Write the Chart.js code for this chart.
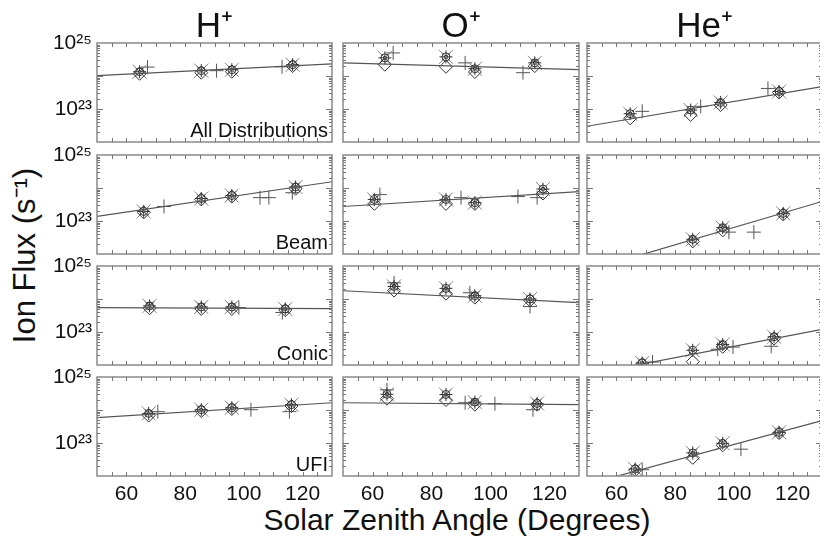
<!DOCTYPE html>
<html>
<head>
<meta charset="utf-8">
<script src="https://cdn.jsdelivr.net/npm/chart.js@4.4.1/dist/chart.umd.min.js"></script>
<style>
  html, body { margin: 0; padding: 0; background: #fff; }
  #fig { position: relative; width: 820px; height: 540px; overflow: hidden;
         font-family: "Liberation Sans", Arial, sans-serif; color: #111; }
  #fig canvas { position: absolute; }
  .ion { position: absolute; top: 7px; font-size: 35px; line-height: 35px; text-align: center; }
  .dist { position: absolute; font-size: 20px; line-height: 20px; text-align: right; }
  .ytitle { position: absolute; left: -126px; top: 240px; width: 300px; font-size: 31px; line-height: 31px;
            text-align: center; transform: rotate(-90deg); }
  .xtitle { position: absolute; left: 157px; top: 505px; width: 600px; font-size: 30px; line-height: 30px;
            text-align: center; }
</style>
</head>
<body>
<div id="fig">
  <div class="ytitle">Ion Flux (s⁻¹)</div>
  <div class="xtitle">Solar Zenith Angle (Degrees)</div>
</div>
<script>
/* labels */
const ionNames = ['H⁺', 'O⁺', 'He⁺'];
const distNames = ['All Distributions', 'Beam', 'Conic', 'UFI'];
const xTickValues = [60, 80, 100, 120];
const yTickValues = [1e23, 1e25];
const fitSza = [50, 130];

/* data, indexed [row][column] */
const clusterSza = [
  [[64.5, 85.5, 95.9, 116.6], [64.2, 84.9, 94.7, 115.0], [64.7, 85.3, 95.5, 115.4]],
  [[65.9, 85.5, 95.9, 117.6], [60.6, 84.9, 94.7, 117.8], [86.0, 96.2, 116.8]],
  [[67.9, 85.5, 95.9, 114.1], [67.3, 84.9, 94.7, 113.4], [68.8, 86.0, 96.2, 113.7]],
  [[67.6, 85.5, 95.9, 116.2], [64.9, 84.9, 94.7, 115.8], [66.4, 86.0, 96.2, 115.4]]
];
const starFlux = [
  [[1.35e24, 1.45e24, 1.55e24, 2.2e24], [3.55e24, 3.8e24, 1.66e24, 2.5e24], [7.2e22, 9.3e22, 1.58e23, 3.4e23]],
  [[1.95e23, 4.8e23, 5.9e23, 1.07e24], [4.5e23, 4.5e23, 3.6e23, 9.3e23], [2.8e22, 6.3e22, 1.7e23]],
  [[6.2e23, 5.75e23, 5.75e23, 5.0e23], [2.4e24, 2.1e24, 1.26e24, 1.0e24], [1.15e22, 2.8e22, 4.2e22, 7.2e22]],
  [[7.9e23, 1.02e24, 1.17e24, 1.45e24], [3.0e24, 2.95e24, 1.74e24, 1.58e24], [1.62e22, 5.0e22, 9.8e22, 2.1e23]]
];
const diamondFlux = [
  [[1.17e24, 1.26e24, 1.35e24, 2.0e24], [2.2e24, 1.9e24, 1.32e24, 2.0e24], [5.2e22, 6.6e22, 1.32e23, 3.16e23]],
  [[1.82e23, 4.5e23, 5.5e23, 9.5e23], [3.3e23, 3.3e23, 3.3e23, 6.8e23], [2.4e22, 5.2e22, 1.58e23]],
  [[5.25e23, 5.0e23, 5.0e23, 4.6e23], [1.8e24, 1.45e24, 1.1e24, 9.1e23], [1.07e22, 1.26e22, 3.55e22, 6.3e22]],
  [[6.8e23, 9.3e23, 1.07e24, 1.32e24], [2.2e24, 2.0e24, 1.45e24, 1.45e24], [1.5e22, 3.55e22, 8.5e22, 2.0e23]]
];
const plusSza = [
  [[67.2, 90.7, 113.0], [67.0, 91.4, 111.0], [68.8, 88.7, 111.6]],
  [[72.8, 105.5, 108.5, 116.5], [62.5, 90.0, 109.3, 115.8], [98.3, 106.8]],
  [[98.3, 113.1], [67.3, 93.0, 113.4], [72.3, 94.5, 99.7, 112.7]],
  [[70.7, 102.4, 115.5], [64.9, 91.4, 101.5, 114.4], [68.8, 102.4]]
];
const plusFlux = [
  [[1.86e24, 1.45e24, 1.9e24], [5.0e24, 2.5e24, 1.26e24], [8.5e22, 1.2e23, 4.2e23]],
  [[2.75e23, 5.1e23, 5.1e23, 7.2e23], [6.3e23, 5.1e23, 5.5e23, 5.1e23], [4.6e22, 4.6e22]],
  [[5.5e23, 3.9e23], [3.1e24, 1.55e24, 5.9e23], [1.23e22, 3.0e22, 3.5e22, 3.7e22]],
  [[8.9e23, 1.02e24, 8.9e23], [4.1e24, 1.66e24, 1.55e24, 1.02e24], [1.55e22, 6.5e22]]
];
const fitFlux = [
  [[1.02e24, 2.34e24], [2.5e24, 1.55e24], [3.0e22, 4.8e23]],
  [[1.38e23, 1.55e24], [2.75e23, 7.8e23], [3.1e21, 3.9e23]],
  [[5.5e23, 5.1e23], [1.78e24, 7.8e23], [5.1e21, 1.2e23]],
  [[5.9e23, 1.66e24], [1.66e24, 1.45e24], [5.6e21, 4.8e23]]
];

/* panel geometry (plot areas) */
const colLeft = [97, 343, 587];
const colWidth = [235, 236, 235];
const rowTop = [43, 155, 266, 377];
const rowHeight = 99;
const Y_AXIS_W = 70;
const X_AXIS_H = 32;
const FONT = '"Liberation Sans", Arial, sans-serif';

const SUP = { '0': '⁰', '1': '¹', '2': '²', '3': '³', '4': '⁴', '5': '⁵', '6': '⁶', '7': '⁷', '8': '⁸', '9': '⁹' };
function sup(n) { return String(n).split('').map(d => SUP[d]).join(''); }
function pts(xs, ys) { return xs.map((x, i) => ({ x: x, y: ys[i] })); }

/* box + inward ticks on all four sides, like the original IDL plot */
const framePlugin = {
  id: 'frame',
  afterDraw(chart) {
    const ctx = chart.ctx;
    const a = chart.chartArea;
    const xs = chart.scales.x, ys = chart.scales.y;
    ctx.save();
    ctx.strokeStyle = '#8a8a8a';
    ctx.lineWidth = 1.5;
    ctx.strokeRect(a.left, a.top, a.right - a.left, a.bottom - a.top);
    ctx.lineWidth = 1;
    ctx.strokeStyle = '#777';
    ctx.beginPath();
    for (let v = 55; v < 130; v += 5) {
      const px = Math.round(xs.getPixelForValue(v)) + 0.5;
      ctx.moveTo(px, a.bottom); ctx.lineTo(px, a.bottom - 4);
      ctx.moveTo(px, a.top); ctx.lineTo(px, a.top + 4);
    }
    for (let e = 22; e < 25; e++) {
      for (let m = 1; m < 10; m++) {
        if (m === 1 && e === 22) continue;
        const py = Math.round(ys.getPixelForValue(m * Math.pow(10, e))) + 0.5;
        const len = m === 1 ? 6 : 3;
        ctx.moveTo(a.left, py); ctx.lineTo(a.left + len, py);
        ctx.moveTo(a.right, py); ctx.lineTo(a.right - len, py);
      }
    }
    ctx.stroke();
    ctx.restore();
  }
};

const fig = document.getElementById('fig');
const charts = [];

function makePanel(r, c) {
  const showX = r === distNames.length - 1;
  const showY = c === 0;
  const padT = 14, padR = 3;
  const padL = showY ? 80 : 3;
  const padB = showX ? 40 : 3;
  const canvas = document.createElement('canvas');
  const w = colWidth[c] + padL + padR;
  const h = rowHeight + padT + padB;
  canvas.width = w; canvas.height = h;
  canvas.style.width = w + 'px'; canvas.style.height = h + 'px';
  canvas.style.left = (colLeft[c] - padL) + 'px';
  canvas.style.top = (rowTop[r] - padT) + 'px';
  fig.appendChild(canvas);

  const markerColor = '#333';
  const datasets = [
    { type: 'line', data: pts(fitSza, fitFlux[r][c]), borderColor: '#555', borderWidth: 1.2,
      pointRadius: 0, fill: false, tension: 0 },
    { data: pts(clusterSza[r][c], diamondFlux[r][c]), pointStyle: 'rectRot', pointRadius: 6.5,
      borderColor: markerColor, borderWidth: 1, backgroundColor: 'rgba(0,0,0,0)' },
    { data: pts(clusterSza[r][c], starFlux[r][c]), pointStyle: 'circle', pointRadius: 4,
      borderColor: markerColor, borderWidth: 1, backgroundColor: 'rgba(0,0,0,0)' },
    { data: pts(clusterSza[r][c], starFlux[r][c]), pointStyle: 'crossRot', pointRadius: 10,
      borderColor: '#888', borderWidth: 1 },
    { data: pts(clusterSza[r][c], starFlux[r][c]), pointStyle: 'star', pointRadius: 6.5,
      borderColor: markerColor, borderWidth: 1 },
    { data: pts(clusterSza[r][c], starFlux[r][c]), pointStyle: 'circle', pointRadius: 1.8,
      borderWidth: 0, backgroundColor: '#000' },
    { data: pts(plusSza[r][c], plusFlux[r][c]), pointStyle: 'cross', pointRadius: 7,
      borderColor: '#555', borderWidth: 1 }
  ];

  return new Chart(canvas.getContext('2d'), {
    type: 'scatter',
    data: { datasets: datasets },
    options: {
      responsive: false,
      animation: false,
      devicePixelRatio: 1,
      events: [],
      layout: {
        autoPadding: false,
        padding: {
          top: padT, right: padR,
          left: showY ? padL - Y_AXIS_W : padL,
          bottom: showX ? padB - X_AXIS_H : padB
        }
      },
      plugins: { legend: { display: false }, tooltip: { enabled: false } },
      scales: {
        x: {
          type: 'linear', min: 50, max: 130, display: showX,
          grid: { display: false, drawTicks: false }, border: { display: false },
          afterBuildTicks: s => { s.ticks = xTickValues.map(v => ({ value: v })); },
          afterFit: s => { s.height = showX ? X_AXIS_H : 0; s.paddingLeft = 0; s.paddingRight = 0; },
          ticks: { color: '#111', padding: 6, autoSkip: false, maxRotation: 0,
                   font: { family: FONT, size: 21 } }
        },
        y: {
          type: 'logarithmic', min: 1e22, max: 1e25, display: showY,
          grid: { display: false, drawTicks: false }, border: { display: false },
          afterBuildTicks: s => { s.ticks = yTickValues.map(v => ({ value: v })); },
          afterFit: s => { s.width = showY ? Y_AXIS_W : 0; s.paddingTop = 0; s.paddingBottom = 0; },
          ticks: { color: '#111', padding: 5, autoSkip: false,
                   font: { family: FONT, size: 21 },
                   callback: v => '10' + sup(Math.round(Math.log10(v))) }
        }
      }
    },
    plugins: [framePlugin]
  });
}

for (let r = 0; r < distNames.length; r++) {
  for (let c = 0; c < ionNames.length; c++) {
    charts.push(makePanel(r, c));
  }
}

/* column titles and panel labels */
ionNames.forEach((name, c) => {
  const d = document.createElement('div');
  d.className = 'ion';
  d.style.left = colLeft[c] + 'px';
  d.style.width = colWidth[c] + 'px';
  d.textContent = name;
  fig.appendChild(d);
});
distNames.forEach((name, r) => {
  const d = document.createElement('div');
  d.className = 'dist';
  d.style.left = (colLeft[0] + colWidth[0] - 304) + 'px';
  d.style.width = '300px';
  d.style.top = (rowTop[r] + rowHeight - 22) + 'px';
  d.textContent = name;
  fig.appendChild(d);
});
</script>
</body>
</html>
